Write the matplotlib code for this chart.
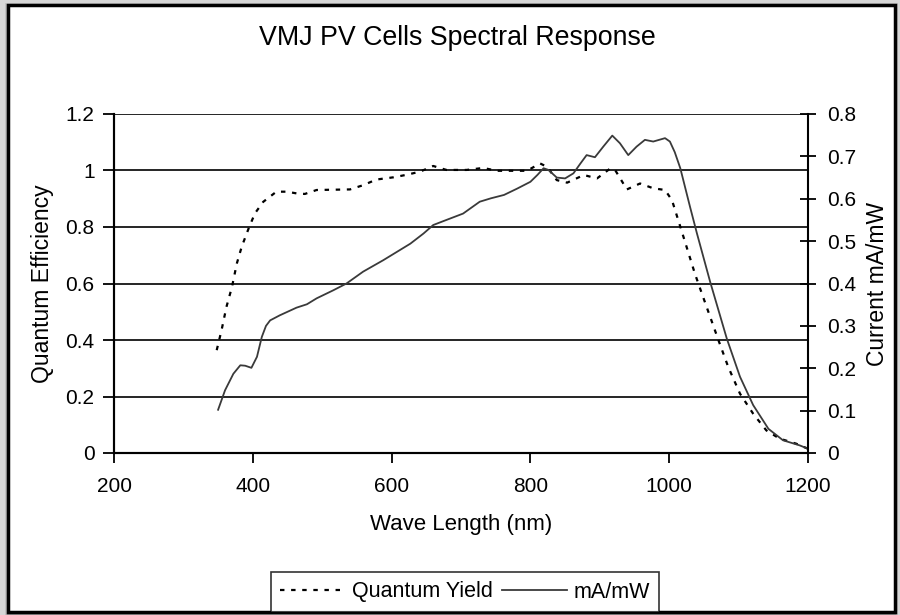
import matplotlib.pyplot as plt
from matplotlib.patches import Rectangle
from matplotlib.lines import Line2D

plt.rcParams['font.family'] = ['Liberation Sans', 'DejaVu Sans']

# quantum yield (left axis)
qy_nm = [348, 355, 362, 370, 377, 384, 394, 403, 415, 434, 449, 463, 475,
         492, 540, 559, 578, 603, 622, 641, 660, 679, 708, 732, 752, 795,
         814, 824, 838, 853, 877, 896, 915, 922, 939, 958, 977, 994, 1004,
         1016, 1025, 1037, 1047, 1059, 1071, 1085, 1102, 1121, 1140, 1159,
         1183, 1200]
qy_val = [0.364, 0.435, 0.517, 0.588, 0.671, 0.730, 0.795, 0.848, 0.889,
          0.925, 0.925, 0.919, 0.917, 0.931, 0.933, 0.948, 0.968, 0.976,
          0.985, 0.996, 1.016, 1.002, 1.002, 1.009, 0.999, 0.999, 1.025,
          1.013, 0.966, 0.957, 0.984, 0.972, 1.007, 1.002, 0.933, 0.954,
          0.937, 0.931, 0.895, 0.801, 0.730, 0.635, 0.565, 0.482, 0.399,
          0.305, 0.210, 0.139, 0.080, 0.051, 0.033, 0.015]

# responsivity mA/mW (right axis)
ma_nm = [350, 360, 372, 382, 389, 398, 406, 413, 419, 425, 439, 463, 478,
         492, 516, 535, 559, 588, 627, 646, 660, 679, 703, 727, 743, 762,
         781, 800, 810, 819, 826, 838, 850, 862, 872, 881, 893, 905, 918,
         929, 941, 953, 965, 977, 994, 1001, 1008, 1016, 1030, 1040, 1059,
         1083, 1102, 1121, 1143, 1164, 1188, 1200]
ma_val = [0.102, 0.148, 0.187, 0.207, 0.206, 0.201, 0.227, 0.274, 0.300,
          0.313, 0.325, 0.343, 0.351, 0.365, 0.384, 0.400, 0.428, 0.455,
          0.494, 0.518, 0.538, 0.550, 0.565, 0.593, 0.601, 0.609, 0.624,
          0.640, 0.656, 0.672, 0.668, 0.650, 0.648, 0.660, 0.683, 0.703,
          0.698, 0.723, 0.749, 0.731, 0.703, 0.723, 0.739, 0.735, 0.743,
          0.735, 0.710, 0.672, 0.581, 0.518, 0.404, 0.270, 0.180, 0.113,
          0.057, 0.030, 0.018, 0.010]

left_ticks = [0, 0.2, 0.4, 0.6, 0.8, 1, 1.2]
left_labels = ['0', '0.2', '0.4', '0.6', '0.8', '1', '1.2']
right_ticks = [0, 0.1, 0.2, 0.3, 0.4, 0.5, 0.6, 0.7, 0.8]
right_labels = ['0', '0.1', '0.2', '0.3', '0.4', '0.5', '0.6', '0.7', '0.8']
x_ticks = [200, 400, 600, 800, 1000, 1200]

W, H = 900, 615
fig = plt.figure(figsize=(9, 6.15), dpi=100, facecolor='#d6d6d6')

# chart frame with a soft shadow
for i, c in enumerate(['#c0c0c0', '#acacac', '#989898']):
    fig.patches.append(Rectangle(((5 + i) / W, 0), (893 - 2 * i) / W,
                                 (612 - i) / H, transform=fig.transFigure,
                                 facecolor=c, edgecolor='none', zorder=-10 + i))
fig.patches.append(Rectangle((8 / W, (H - 612) / H), 887 / W, 607 / H,
                             transform=fig.transFigure, facecolor='white',
                             edgecolor='black', linewidth=2.5, zorder=-5))

ax = fig.add_axes([114 / W, (H - 453) / H, (808 - 114) / W, (453 - 114) / H])
ax.set_facecolor('none')
ax2 = ax.twinx()
ax2.set_facecolor('none')

ax.plot(qy_nm, qy_val, color='black', lw=1.6, linestyle=(0, (2, 3)))
ax2.plot(ma_nm, ma_val, color='#3a3a3a', lw=1.3)

ax.set_xlim(200, 1200)
ax.set_ylim(0, 1.2)
ax2.set_ylim(0, 0.8)
ax.set_xticks(x_ticks)
ax.set_yticks(left_ticks)
ax.set_yticklabels(left_labels)
ax2.set_yticks(right_ticks)
ax2.set_yticklabels(right_labels)

for y in left_ticks[1:]:
    ax.axhline(y, color='black', lw=1.2, zorder=0)

for a in (ax, ax2):
    for s in a.spines.values():
        s.set_linewidth(1.5)
    a.spines['top'].set_visible(False)
ax.spines['right'].set_visible(False)

ax.tick_params(axis='both', labelsize=15, width=1.3, color='black')
ax.tick_params(axis='y', direction='out', length=8, pad=6)
ax.tick_params(axis='x', direction='out', length=7, pad=10)
ax2.tick_params(axis='y', direction='inout', length=12, width=1.3,
                labelsize=15, pad=8)

ax.set_xlabel('Wave Length (nm)', fontsize=16, labelpad=13)
ax.set_ylabel('Quantum Efficiency', fontsize=16.5, labelpad=8)
ax2.set_ylabel('Current mA/mW', fontsize=16.5, labelpad=7)
fig.text(457 / W, 1 - 38 / H, 'VMJ PV Cells Spectral Response',
         fontsize=19.3, ha='center', va='center')

handles = [Line2D([], [], color='black', lw=1.6, linestyle=(0, (2, 3))),
           Line2D([], [], color='#3a3a3a', lw=1.3)]
leg = fig.legend(handles, ['Quantum Yield', 'mA/mW'], loc='center',
                 bbox_to_anchor=(465 / W, 1 - 592 / H), ncol=2, fontsize=15.5,
                 frameon=True, fancybox=False, edgecolor='black',
                 borderpad=0.45, handlelength=3.0, handletextpad=0.3,
                 columnspacing=0.45)
leg.get_frame().set_linewidth(1.2)

plt.savefig('out.png', dpi=100, facecolor=fig.get_facecolor())
